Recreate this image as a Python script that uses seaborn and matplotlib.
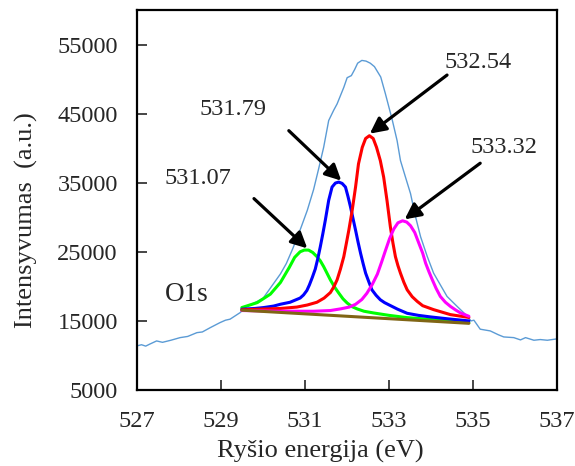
import matplotlib
matplotlib.use("Agg")
import matplotlib.pyplot as plt
import seaborn as sns

# ---- data ----
raw_energy = [527.00, 527.10, 527.20, 527.30, 527.46, 527.60, 527.80, 528.02, 528.20, 528.42,
              528.55, 528.74, 528.97, 529.10, 529.21, 529.45, 529.61, 529.85, 530.00, 530.17,
              530.41, 530.55, 530.70, 530.90, 531.05, 531.20, 531.32, 531.44, 531.56, 531.68,
              531.76, 531.92, 532.00, 532.10, 532.18, 532.25, 532.35, 532.45, 532.55, 532.65,
              532.80, 532.91, 533.07, 533.19, 533.27, 533.39, 533.51, 533.63, 533.75, 533.91,
              534.06, 534.22, 534.38, 534.62, 534.86, 534.95, 535.02, 535.17, 535.41, 535.60,
              535.73, 535.97, 536.13, 536.25, 536.45, 536.60, 536.77, 537.00]
raw_intensity = [11400, 11550, 11350, 11650, 12100, 11900, 12200, 12580, 12750, 13300,
                 13400, 14030, 14750, 15100, 15250, 16200, 17100, 17800, 18300, 19750,
                 21800, 23300, 25400, 28500, 31000, 34000, 37000, 40120, 44000, 45500,
                 46400, 48800, 50200, 50500, 51400, 52300, 52700, 52600, 52300, 51800,
                 50300, 47900, 44200, 41090, 38210, 35800, 33420, 30050, 27170, 24300,
                 21910, 20220, 18540, 17100, 15700, 15000, 15100, 13800, 13550, 13000,
                 12680, 12580, 12250, 12580, 12200, 12300, 12200, 12400]

green_energy = [529.49, 529.86, 530.17, 530.41, 530.62, 530.75, 530.88, 530.98, 531.08, 531.18,
                531.28, 531.36, 531.44, 531.52, 531.60, 531.70, 531.80, 531.90, 532.00, 532.12,
                532.24, 532.40, 532.63, 533.00, 533.42, 534.23, 534.90]
green_intensity = [16930, 17650, 18870, 20560, 22730, 24200, 25010, 25250, 25250, 24900,
                   24300, 23700, 22860, 21900, 20940, 19900, 19030, 18200, 17590, 17050,
                   16730, 16400, 16150, 15800, 15480, 15100, 14750]

blue_energy = [529.49, 529.80, 530.01, 530.25, 530.41, 530.64, 530.88, 530.96, 531.04, 531.10,
               531.17, 531.24, 531.30, 531.36, 531.42, 531.48, 531.56, 531.64, 531.72, 531.80,
               531.88, 531.96, 532.02, 532.08, 532.14, 532.20, 532.26, 532.32, 532.38, 532.44,
               532.52, 532.59, 532.69, 532.79, 532.89, 532.99, 533.20, 533.43, 533.70, 533.98,
               534.40, 534.90]
blue_intensity = [16690, 16800, 16930, 17150, 17410, 17700, 18310, 18750, 19400, 20200,
                  21300, 22500, 24000, 25730, 27600, 29580, 32450, 34370, 34950, 35090,
                  34900, 34370, 33000, 31490, 29800, 28140, 26400, 24780, 23300, 21910,
                  20600, 19500, 18700, 18060, 17650, 17340, 16700, 16100, 15800, 15580,
                  15300, 15000]

red_energy = [529.49, 530.41, 530.80, 531.05, 531.28, 531.45, 531.60, 531.68, 531.76, 531.84,
              531.92, 531.98, 532.04, 532.12, 532.20, 532.27, 532.36, 532.44, 532.53, 532.62,
              532.70, 532.79, 532.87, 532.95, 533.03, 533.09, 533.15, 533.21, 533.27, 533.35,
              533.43, 533.55, 533.67, 533.80, 534.06, 534.46, 534.90]
red_intensity = [16600, 16800, 17000, 17300, 17700, 18300, 19100, 19900, 20940, 22500,
                 24300, 26200, 28140, 31010, 34370, 37730, 40120, 41400, 41800, 41400,
                 40120, 38200, 35800, 32400, 28600, 26300, 24300, 23000, 21910, 20600,
                 19500, 18500, 17820, 17200, 16630, 15910, 15500]

magenta_energy = [529.49, 530.40, 531.20, 531.60, 531.85, 532.05, 532.20, 532.35, 532.47, 532.60,
                  532.72, 532.82, 532.91, 533.01, 533.11, 533.21, 533.32, 533.42, 533.51, 533.61,
                  533.71, 533.80, 533.87, 533.95, 534.03, 534.12, 534.22, 534.34, 534.46, 534.58,
                  534.70, 534.90]
magenta_intensity = [16500, 16400, 16400, 16500, 16750, 17000, 17400, 18100, 19000, 20300,
                     21770, 23500, 25140, 26900, 28290, 29200, 29490, 29300, 28770, 27800,
                     26220, 24800, 23350, 22100, 20940, 19700, 18540, 17700, 17100, 16600,
                     16150, 15670]

baseline_energy = [529.49, 534.90]
baseline_intensity = [16550, 14650]

peak_labels = ["531.07", "531.79", "532.54", "533.32"]
label_pos = [(528.44, 35580), (529.29, 45650), (535.11, 52350), (535.74, 40120)]
arrow_tail = [(529.78, 32700), (530.61, 42530), (534.38, 50580), (535.17, 37820)]
arrow_head = [(531.05, 25500), (531.86, 35300), (532.54, 42100), (533.37, 29700)]

x_ticks = [527, 529, 531, 533, 535, 537]
y_ticks = [5000, 15000, 25000, 35000, 45000, 55000]

# ---- style ----
sns.set_style("ticks")
plt.rcParams['font.family'] = ['Liberation Serif', 'DejaVu Serif']

fig = plt.figure(figsize=(5.75, 4.66), dpi=100)
ax = fig.add_axes([0.2388, 0.1631, 0.7299, 0.8155])

sns.lineplot(x=raw_energy, y=raw_intensity, color='#5B9BD5', linewidth=1.0,
             ax=ax, sort=False, estimator=None)
for ex, iy, col in [(green_energy, green_intensity, '#00FF00'),
                    (blue_energy, blue_intensity, '#0000FF'),
                    (red_energy, red_intensity, '#FF0000'),
                    (magenta_energy, magenta_intensity, '#FF00FF'),
                    (baseline_energy, baseline_intensity, '#806515')]:
    line_ax = sns.lineplot(x=ex, y=iy, color=col, linewidth=2.2, ax=ax,
                           sort=False, estimator=None)
for ln in ax.get_lines():
    ln.set_solid_joinstyle('round')
    ln.set_solid_capstyle('round')

for lab, pos, tail, head in zip(peak_labels, label_pos, arrow_tail, arrow_head):
    ax.annotate('', xy=head, xytext=tail,
                arrowprops=dict(arrowstyle='-|>', color='black', lw=2.3,
                                mutation_scale=24, shrinkA=0, shrinkB=0))
    ax.text(pos[0], pos[1], lab, ha='center', va='center', fontsize=17.5)

ax.text(528.18, 18780, "O1s", ha='center', va='center', fontsize=19.5)

ax.set_xlim(527, 537)
ax.set_ylim(5000, 60000)
ax.set_xticks(x_ticks)
ax.set_yticks(y_ticks)
ax.tick_params(direction='in', length=7.5, width=1.2, labelsize=17.5, pad=15)
ax.tick_params(axis='y', pad=14)
for sp in ax.spines.values():
    sp.set_visible(True)
    sp.set_linewidth(1.6)
    sp.set_color('black')

ax.set_xlabel("Ryšio energija (eV)", fontsize=19)
ax.set_ylabel("Intensyvumas  (a.u.)", fontsize=19)
ax.xaxis.set_label_coords(0.435, -0.163)
ax.xaxis.label.set_verticalalignment('center')
ax.yaxis.set_label_coords(-0.263, 0.447)
ax.yaxis.label.set_verticalalignment('center')

fig.savefig("out.png", dpi=100)
